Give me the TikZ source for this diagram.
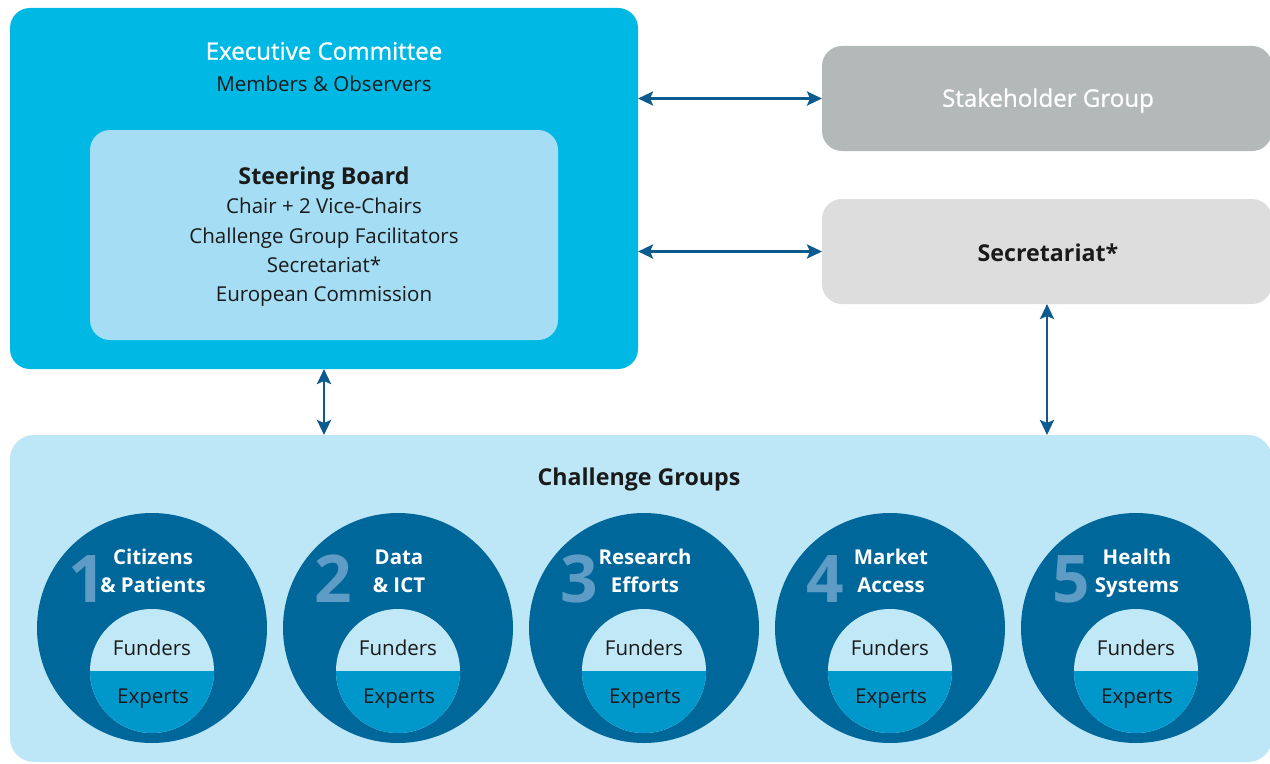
\documentclass[tikz,border=0pt]{standalone}
\usepackage{fontspec}
\setmainfont{Open Sans}
\newfontfamily\mediumfont[FakeBold=0.9]{Open Sans}
\usetikzlibrary{arrows.meta}

\definecolor{execblue}{HTML}{00B8E4}
\definecolor{steerblue}{HTML}{A4DDF4}
\definecolor{stakegray}{HTML}{B3B9B8}
\definecolor{secrgray}{HTML}{DDDDDD}
\definecolor{cgblue}{HTML}{BDE6F6}
\definecolor{circblue}{HTML}{00679B}
\definecolor{toplight}{HTML}{C0E8F7}
\definecolor{botblue}{HTML}{0097CB}
\definecolor{numblue}{HTML}{5E9CC5}
\definecolor{arrowblue}{HTML}{0D5A8E}
\definecolor{darktext}{HTML}{1A1A1A}

\tikzset{
	box/.style={rounded corners=20bp,inner sep=0pt,outer sep=0pt,anchor=north west},
	link/.style={{Stealth[length=15bp,width=14bp,inset=3bp]}-{Stealth[length=15bp,width=14bp,inset=3bp]},line width=2.8bp,arrowblue},
	txt/.style={darktext,font=\fontsize{20.6}{29.5}\selectfont,align=center},
	head/.style={darktext,font=\bfseries\fontsize{23.3}{29}\selectfont},
	lighthead/.style={white,font=\mediumfont\fontsize{24.2}{29}\selectfont}
}

\begin{document}
\begin{tikzpicture}[x=1bp,y=-1bp]
	\useasboundingbox (0,0) rectangle (1270,764);

	\node[box,fill=execblue,minimum width=628bp,minimum height=361bp] (exec) at (10,8) {};
	\node[box,fill=steerblue,minimum width=468bp,minimum height=210bp] (steer) at (90,130) {};
	\node[box,fill=stakegray,minimum width=450bp,minimum height=105bp] (stake) at (822,46) {};
	\node[box,fill=secrgray,minimum width=450bp,minimum height=105bp] (secr) at (822,199) {};
	\node[box,fill=cgblue,minimum width=1262bp,minimum height=327bp,rounded corners=24bp] (cg) at (10,435) {};

	\node[lighthead] (exectitle) at (324,51) {Executive Committee};
	\node[txt] (members) at (324,84) {Members \& Observers};
	\node[head] (steertitle) at (324,178) {Steering Board};
	\node[txt] (steerlist) at (324,252.5) {Chair + 2 Vice-Chairs\\Challenge Group Facilitators\\Secretariat*\\European Commission};
	\node[lighthead] (staketitle) at (1048,100.5) {Stakeholder Group};
	\node[head] (secrtitle) at (1048,253) {Secretariat*};
	\node[head] (cgtitle) at (639,479.5) {Challenge Groups};

	\foreach \i/\a/\b in {1/Citizens/\& Patients,2/Data/\& ICT,3/Research/Efforts,4/Market/Access,5/Health/Systems}{
		\pgfmathsetmacro{\x}{152+246*(\i-1)}
		\node[circle,fill=circblue,minimum size=230bp,inner sep=0pt] (grp\i) at (\x,628) {};
		\node[circle,fill=toplight,minimum size=124bp,inner sep=0pt,
			path picture={\fill[botblue] (path picture bounding box.west) rectangle (path picture bounding box.south east);}] (inner\i) at (\x,671) {};
		\node[numblue,font=\bfseries\fontsize{66}{66}\selectfont] (num\i) at (\x-65,579) {\i};
		\node[white,align=center,font=\bfseries\fontsize{20.5}{29}\selectfont] (name\i) at (\x+1,572.7) {\strut\a\\\strut\b};
		\node[txt] (fund\i) at (\x,648) {Funders};
		\node[txt] (exp\i) at (\x+1,698.5) {Experts};
	}

	\draw[link] (exec.east |- stake.west) -- (stake.west);
	\draw[link] (exec.east |- secr.west) -- (secr.west);
	\draw[link] (exec.south) -- (exec.south |- cg.north);
	\draw[link] (secr.south) -- (secr.south |- cg.north);
\end{tikzpicture}
\end{document}
